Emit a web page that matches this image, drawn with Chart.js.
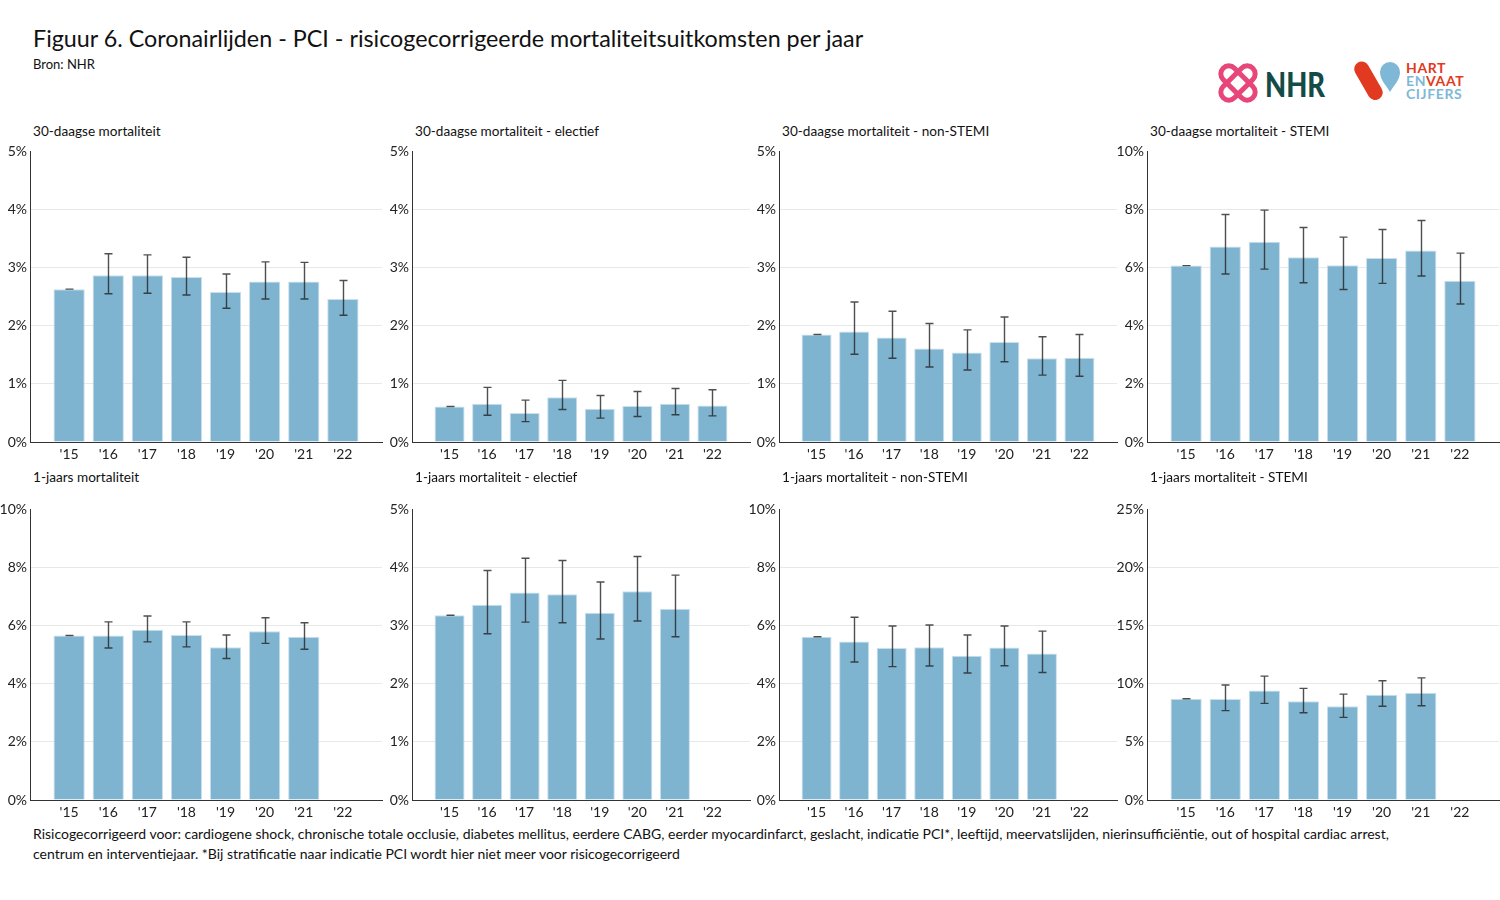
<!DOCTYPE html>
<html><head><meta charset="utf-8">
<script src="https://cdn.jsdelivr.net/npm/chart.js@4/dist/chart.umd.min.js"></script>
<style>
body{margin:0;width:1500px;height:900px;background:#fff;font-family:Lato,"Open Sans",sans-serif;color:#111;position:relative;overflow:hidden}
.abs{position:absolute;white-space:nowrap}
.ptitle{font-size:13.6px;color:#111}
canvas{position:absolute}
</style></head>
<body>
<div class="abs" style="left:33px;top:23px;font-size:23.3px;line-height:30px;">Figuur 6. Coronairlijden - PCI - risicogecorrigeerde mortaliteitsuitkomsten per jaar</div>
<div class="abs" style="left:33px;top:56px;font-size:13px;">Bron: NHR</div>

<svg class="abs" style="left:1210px;top:55px" width="290" height="55" viewBox="0 0 290 55">
  <g fill="none" stroke="#e8457a" stroke-width="5">
    <rect x="20" y="7" width="16" height="42" rx="8" transform="rotate(45 28 28)"/>
    <rect x="20" y="7" width="16" height="42" rx="8" transform="rotate(-45 28 28)"/>
  </g>
  <text x="55" y="42" font-family="Lato" font-weight="900" font-size="34" fill="#134b47" textLength="60" lengthAdjust="spacingAndGlyphs">NHR</text>
  <rect x="151" y="5" width="15" height="42" rx="7.5" fill="#e23a20" transform="rotate(-30 158 26)"/>
  <path d="M180 7 a10 10 0 0 1 10 10 c0 8 -6 13 -10 20 c-4 -7 -10 -12 -10 -20 a10 10 0 0 1 10 -10z" fill="#7fb8d6"/>
  <text x="196" y="18" font-family="Lato" font-weight="700" font-size="14" fill="#e23a20" letter-spacing="0.6">HART</text>
  <text x="196" y="31" font-family="Lato" font-weight="700" font-size="14" letter-spacing="0.6"><tspan fill="#7fb8d6">EN</tspan><tspan fill="#e23a20">VAAT</tspan></text>
  <text x="196" y="44" font-family="Lato" font-weight="700" font-size="14" fill="#7fb8d6" letter-spacing="0.6">CIJFERS</text>
</svg>

<div class="abs" style="left:33px;top:824px;font-size:14px;line-height:20px;">Risicogecorrigeerd voor: cardiogene shock, chronische totale occlusie, diabetes mellitus, eerdere CABG, eerder myocardinfarct, geslacht, indicatie PCI*, leeftijd, meervatslijden, nierinsufficiëntie, out of hospital cardiac arrest,<br>centrum en interventiejaar. *Bij stratificatie naar indicatie PCI wordt hier niet meer voor risicogecorrigeerd</div>

<script>
// ---- data ----
const years = [2015, 2016, 2017, 2018, 2019, 2020, 2021, 2022];
const yearLabels = ["'15", "'16", "'17", "'18", "'19", "'20", "'21", "'22"];

const m30      = [2.63, 2.87, 2.87, 2.84, 2.58, 2.76, 2.76, 2.46];
const m30Lo    = [2.63, 2.55, 2.56, 2.53, 2.30, 2.46, 2.46, 2.18];
const m30Hi    = [2.63, 3.24, 3.22, 3.18, 2.89, 3.10, 3.09, 2.78];

const m30El    = [0.61, 0.66, 0.50, 0.77, 0.57, 0.62, 0.66, 0.63];
const m30ElLo  = [0.61, 0.46, 0.35, 0.56, 0.41, 0.44, 0.47, 0.45];
const m30ElHi  = [0.61, 0.94, 0.72, 1.06, 0.80, 0.87, 0.92, 0.90];

const m30Ns    = [1.85, 1.90, 1.80, 1.61, 1.54, 1.72, 1.44, 1.45];
const m30NsLo  = [1.85, 1.51, 1.44, 1.29, 1.24, 1.38, 1.15, 1.13];
const m30NsHi  = [1.85, 2.41, 2.25, 2.04, 1.93, 2.15, 1.81, 1.85];

const m30St    = [6.07, 6.73, 6.89, 6.36, 6.08, 6.33, 6.59, 5.55];
const m30StLo  = [6.07, 5.78, 5.95, 5.48, 5.25, 5.46, 5.71, 4.75];
const m30StHi  = [6.07, 7.83, 7.98, 7.38, 7.05, 7.31, 7.62, 6.50];

const m1y      = [5.66, 5.66, 5.86, 5.68, 5.26, 5.81, 5.62, null];
const m1yLo    = [5.66, 5.23, 5.44, 5.27, 4.87, 5.39, 5.19, null];
const m1yHi    = [5.66, 6.13, 6.33, 6.13, 5.68, 6.27, 6.10, null];

const m1yEl    = [3.18, 3.36, 3.57, 3.54, 3.22, 3.59, 3.29, null];
const m1yElLo  = [3.18, 2.86, 3.06, 3.05, 2.77, 3.08, 2.81, null];
const m1yElHi  = [3.18, 3.95, 4.16, 4.12, 3.75, 4.19, 3.87, null];

const m1yNs    = [5.62, 5.45, 5.23, 5.26, 4.96, 5.25, 5.04, null];
const m1yNsLo  = [5.62, 4.75, 4.59, 4.61, 4.37, 4.62, 4.39, null];
const m1yNsHi  = [5.62, 6.29, 5.99, 6.02, 5.68, 5.99, 5.81, null];

const m1ySt    = [8.71, 8.69, 9.43, 8.49, 8.06, 9.06, 9.23, null];
const m1yStLo  = [8.71, 7.69, 8.31, 7.51, 7.11, 8.06, 8.11, null];
const m1yStHi  = [8.71, 9.89, 10.66, 9.60, 9.11, 10.26, 10.51, null];

const titles = ['30-daagse mortaliteit', '30-daagse mortaliteit - electief', '30-daagse mortaliteit - non-STEMI', '30-daagse mortaliteit - STEMI',
                '1-jaars mortaliteit', '1-jaars mortaliteit - electief', '1-jaars mortaliteit - non-STEMI', '1-jaars mortaliteit - STEMI'];
const yMax  = [5, 5, 5, 10, 10, 5, 10, 25];
const yStep = [1, 1, 1, 2, 2, 1, 2, 5];

// ---- layout ----
const cols = [{L:30, R:382}, {L:412, R:750}, {L:779, R:1117}, {L:1147, R:1499}];
const rows = [{areaTop:150, titleTop:123}, {areaTop:508, titleTop:469}];
const series = [[m30,m30Lo,m30Hi],[m30El,m30ElLo,m30ElHi],[m30Ns,m30NsLo,m30NsHi],[m30St,m30StLo,m30StHi],
                [m1y,m1yLo,m1yHi],[m1yEl,m1yElLo,m1yElHi],[m1yNs,m1yNsLo,m1yNsHi],[m1ySt,m1yStLo,m1yStHi]];

const AXISW = 32, PADTOP = 10, XH = 25, AREAH = 292;

series.forEach((s, k) => {
  const col = cols[k % 4], row = rows[Math.floor(k / 4)];
  const [vals, lo, hi] = s;
  const t = document.createElement('div');
  t.className = 'abs ptitle';
  t.style.left = (col.L + 3) + 'px';
  t.style.top = row.titleTop + 'px';
  t.textContent = titles[k];
  document.body.appendChild(t);

  const cv = document.createElement('canvas');
  const w = (col.R - col.L) + AXISW + 2;
  const h = PADTOP + AREAH + XH;
  cv.width = w; cv.height = h;
  cv.style.width = w + 'px'; cv.style.height = h + 'px';
  cv.style.left = (col.L - AXISW) + 'px';
  cv.style.top = (row.areaTop - PADTOP) + 'px';
  document.body.appendChild(cv);

  const errPlugin = {
    id: 'errbars' + k,
    afterDatasetsDraw(chart) {
      const xs = chart.scales.x, ys = chart.scales.y, ctx = chart.ctx;
      ctx.save();
      ctx.strokeStyle = 'rgba(35,35,35,0.8)';
      ctx.lineWidth = 1.4;
      lo.forEach((l, i) => {
        if (l == null) return;
        const x = Math.round(xs.getPixelForValue(years[i])) + 0.5;
        const y1 = ys.getPixelForValue(l), y2 = ys.getPixelForValue(hi[i]);
        ctx.beginPath();
        ctx.moveTo(x, y1); ctx.lineTo(x, y2);
        ctx.moveTo(x - 4, y1); ctx.lineTo(x + 4, y1);
        ctx.moveTo(x - 4, y2); ctx.lineTo(x + 4, y2);
        ctx.stroke();
      });
      ctx.restore();
    }
  };

  const max = yMax[k];
  new Chart(cv.getContext('2d'), {
    type: 'bar',
    data: {
      datasets: [{
        data: years.map((y, i) => ({x: y, y: vals[i]})),
        backgroundColor: '#7fb4d1',
        borderColor: '#c9dfec',
        borderWidth: 1,
        barPercentage: 1,
        categoryPercentage: 0.8
      }]
    },
    options: {
      responsive: false,
      animation: false,
      layout: {padding: {top: PADTOP, left: 0, right: 2, bottom: 0}},
      plugins: {legend: {display: false}, tooltip: {enabled: false}},
      scales: {
        x: {
          type: 'linear', min: 2014, max: 2023, offset: false,
          afterBuildTicks: sc => { sc.ticks = years.map(v => ({value: v})); },
          afterFit: sc => { sc.height = XH; },
          grid: {display: false, drawTicks: false, offset: false},
          border: {color: '#333', width: 1},
          ticks: {
            callback: v => yearLabels[years.indexOf(v)],
            font: {family: 'Lato', size: 14}, color: '#222', padding: 4,
            maxRotation: 0, autoSkip: false
          }
        },
        y: {
          min: 0, max: max,
          afterFit: sc => { sc.width = AXISW; },
          grid: {
            color: c => (c.tick.value === 0 || c.tick.value === max) ? 'rgba(0,0,0,0)' : '#e8e8e8',
            drawTicks: false
          },
          border: {color: '#333', width: 1},
          ticks: {
            stepSize: yStep[k],
            callback: v => v + '%',
            font: {family: 'Lato', size: 14}, color: '#222', padding: 3
          }
        }
      }
    },
    plugins: [errPlugin]
  });
});
</script>
</body></html>
